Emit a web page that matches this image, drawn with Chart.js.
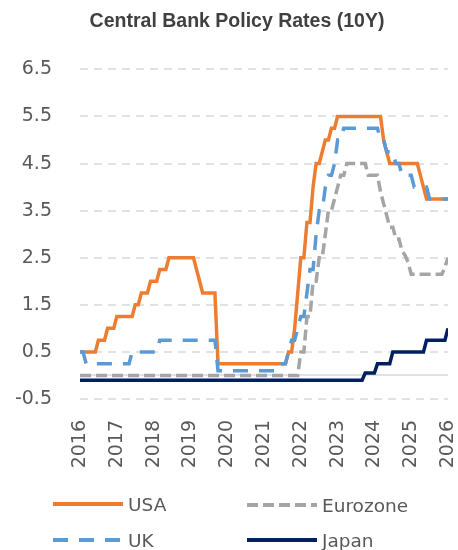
<!DOCTYPE html>
<html>
<head>
<meta charset="utf-8">
<script src="https://cdn.jsdelivr.net/npm/chart.js@4.4.1/dist/chart.umd.min.js"></script>
<style>
  body { margin: 0; background: #fff; }
  #wrap { position: relative; width: 458px; height: 550px; }
  #legend { position: absolute; left: 0; top: 0; width: 458px; height: 550px; pointer-events: none; }
  .item { position: absolute; height: 24px; display: flex; align-items: center;
          font-family: 'DejaVu Sans'; font-size: 18.5px; color: #595959; }
  .item svg { margin-right: 5px; }
</style>
</head>
<body>
<div id="wrap">
  <canvas id="chart" width="458" height="550"></canvas>
  <div id="legend"></div>
</div>
<script>
// monthly values, Jan 2016 .. Jan 2026 (one row per year)
const startYear = 2016;
const yearTicks = [2016, 2017, 2018, 2019, 2020, 2021, 2022, 2023, 2024, 2025, 2026];
const rateTicks = [-0.5, 0.5, 1.5, 2.5, 3.5, 4.5, 5.5, 6.5];

const usa = [
  0.5, 0.5, 0.5, 0.5, 0.5, 0.5, 0.75, 0.75, 0.75, 1, 1, 1,
  1.25, 1.25, 1.25, 1.25, 1.25, 1.25, 1.5, 1.5, 1.75, 1.75, 1.75, 2,
  2, 2, 2.25, 2.25, 2.25, 2.5, 2.5, 2.5, 2.5, 2.5, 2.5, 2.5,
  2.5, 2.5, 2.25, 2, 1.75, 1.75, 1.75, 1.75, 1.75, 0.25, 0.25, 0.25,
  0.25, 0.25, 0.25, 0.25, 0.25, 0.25, 0.25, 0.25, 0.25, 0.25, 0.25, 0.25,
  0.25, 0.25, 0.25, 0.25, 0.25, 0.25, 0.25, 0.25, 0.5, 0.5, 1, 1.75,
  2.5, 2.5, 3.25, 3.25, 4, 4.5, 4.5, 4.75, 5, 5, 5.25, 5.25,
  5.5, 5.5, 5.5, 5.5, 5.5, 5.5, 5.5, 5.5, 5.5, 5.5, 5.5, 5.5,
  5.5, 5.5, 5.5, 5, 4.75, 4.5, 4.5, 4.5, 4.5, 4.5, 4.5, 4.5,
  4.5, 4.5, 4.5, 4.25, 4, 3.75, 3.75, 3.75, 3.75, 3.75, 3.75, 3.75,
  3.75
];

const eurozone = [
  0, 0, 0, 0, 0, 0, 0, 0, 0, 0, 0, 0,
  0, 0, 0, 0, 0, 0, 0, 0, 0, 0, 0, 0,
  0, 0, 0, 0, 0, 0, 0, 0, 0, 0, 0, 0,
  0, 0, 0, 0, 0, 0, 0, 0, 0, 0, 0, 0,
  0, 0, 0, 0, 0, 0, 0, 0, 0, 0, 0, 0,
  0, 0, 0, 0, 0, 0, 0, 0, 0, 0, 0, 0,
  0.5, 0.5, 1.25, 1.25, 2, 2, 2.5, 2.5, 3, 3.5, 3.5, 3.75,
  4, 4.25, 4.25, 4.5, 4.5, 4.5, 4.5, 4.5, 4.5, 4.5, 4.25, 4.25,
  4.25, 4.25, 3.9, 3.65, 3.4, 3.15, 3.15, 2.9, 2.9, 2.65, 2.55, 2.4,
  2.15, 2.15, 2.15, 2.15, 2.15, 2.15, 2.15, 2.15, 2.15, 2.15, 2.15, 2.3,
  2.5
];

const uk = [
  0.5, 0.5, 0.25, 0.25, 0.25, 0.25, 0.25, 0.25, 0.25, 0.25, 0.25, 0.25,
  0.25, 0.25, 0.25, 0.25, 0.25, 0.5, 0.5, 0.5, 0.5, 0.5, 0.5, 0.5,
  0.5, 0.5, 0.75, 0.75, 0.75, 0.75, 0.75, 0.75, 0.75, 0.75, 0.75, 0.75,
  0.75, 0.75, 0.75, 0.75, 0.75, 0.75, 0.75, 0.75, 0.75, 0.1, 0.1, 0.1,
  0.1, 0.1, 0.1, 0.1, 0.1, 0.1, 0.1, 0.1, 0.1, 0.1, 0.1, 0.1,
  0.1, 0.1, 0.1, 0.1, 0.1, 0.1, 0.25, 0.25, 0.5, 0.75, 0.75, 1,
  1.25, 1.25, 1.75, 2.25, 2.25, 3, 3.5, 3.5, 4, 4.25, 4.25, 4.5,
  5, 5, 5.25, 5.25, 5.25, 5.25, 5.25, 5.25, 5.25, 5.25, 5.25, 5.25,
  5.25, 5.25, 5, 5, 4.75, 4.75, 4.75, 4.5, 4.5, 4.25, 4.25, 4.25,
  4.25, 4, 4, 4, 4, 4, 3.75, 3.75, 3.75, 3.75, 3.75, 3.75,
  3.75
];

const japan = [
  -0.1, -0.1, -0.1, -0.1, -0.1, -0.1, -0.1, -0.1, -0.1, -0.1, -0.1, -0.1,
  -0.1, -0.1, -0.1, -0.1, -0.1, -0.1, -0.1, -0.1, -0.1, -0.1, -0.1, -0.1,
  -0.1, -0.1, -0.1, -0.1, -0.1, -0.1, -0.1, -0.1, -0.1, -0.1, -0.1, -0.1,
  -0.1, -0.1, -0.1, -0.1, -0.1, -0.1, -0.1, -0.1, -0.1, -0.1, -0.1, -0.1,
  -0.1, -0.1, -0.1, -0.1, -0.1, -0.1, -0.1, -0.1, -0.1, -0.1, -0.1, -0.1,
  -0.1, -0.1, -0.1, -0.1, -0.1, -0.1, -0.1, -0.1, -0.1, -0.1, -0.1, -0.1,
  -0.1, -0.1, -0.1, -0.1, -0.1, -0.1, -0.1, -0.1, -0.1, -0.1, -0.1, -0.1,
  -0.1, -0.1, -0.1, -0.1, -0.1, -0.1, -0.1, -0.1, -0.1, 0.05, 0.05, 0.05,
  0.05, 0.25, 0.25, 0.25, 0.25, 0.25, 0.5, 0.5, 0.5, 0.5, 0.5, 0.5,
  0.5, 0.5, 0.5, 0.5, 0.5, 0.75, 0.75, 0.75, 0.75, 0.75, 0.75, 0.75,
  1
];

const toPoints = arr => arr.map((v, i) => ({ x: startYear + i / 12, y: v }));

// legend is laid out as a 2x2 grid like the original
const series = [
  { label: 'USA',      data: usa,      color: '#ED7D31', dash: [],       order: 4, pos: [53, 504] },
  { label: 'Eurozone', data: eurozone, color: '#A5A5A5', dash: [11, 5],  order: 3, pos: [247, 505] },
  { label: 'UK',       data: uk,       color: '#5B9BD5', dash: [15, 11], order: 2, pos: [53, 540] },
  { label: 'Japan',    data: japan,    color: '#002060', dash: [],       order: 1, pos: [247, 540] },
];

// dashed horizontal grid + solid line at zero, under the series
const gridLines = {
  id: 'gridLines',
  beforeDatasetsDraw(chart) {
    const { ctx, chartArea, scales } = chart;
    ctx.save();
    ctx.strokeStyle = '#D9D9D9';
    ctx.lineWidth = 1.5;
    ctx.setLineDash([8, 6]);
    rateTicks.forEach(v => {
      const y = Math.round(scales.y.getPixelForValue(v));
      ctx.beginPath();
      ctx.moveTo(chartArea.left, y);
      ctx.lineTo(chartArea.right, y);
      ctx.stroke();
    });
    ctx.setLineDash([]);
    const y0 = Math.round(scales.y.getPixelForValue(0));
    ctx.beginPath();
    ctx.moveTo(chartArea.left, y0);
    ctx.lineTo(chartArea.right, y0);
    ctx.stroke();
    ctx.restore();
  }
};

Chart.defaults.font.family = 'DejaVu Sans';
Chart.defaults.font.size = 19;
Chart.defaults.color = '#595959';

new Chart(document.getElementById('chart').getContext('2d'), {
  type: 'line',
  data: {
    datasets: series.map(s => ({
      label: s.label,
      data: toPoints(s.data),
      borderColor: s.color,
      backgroundColor: s.color,
      borderDash: s.dash,
      borderWidth: 3.5,
      pointRadius: 0,
      tension: 0,
      order: s.order,
    })),
  },
  options: {
    responsive: false,
    animation: false,
    devicePixelRatio: 1,
    layout: { padding: { left: 16, right: 0, top: 0, bottom: 71 } },
    plugins: {
      legend: { display: false },
      tooltip: { enabled: false },
      title: {
        display: true,
        text: 'Central Bank Policy Rates (10Y)',
        color: '#404040',
        font: { family: 'Liberation Sans', size: 19.5, weight: 'bold' },
        padding: { top: 10, bottom: 36 },
      },
    },
    scales: {
      x: {
        type: 'linear',
        min: 2016,
        max: 2026,
        afterBuildTicks: s => { s.ticks = yearTicks.map(v => ({ value: v })); },
        afterFit: s => { s.height = 80; s.paddingLeft = 0; s.paddingRight = 10; },
        grid: { display: false },
        border: { display: false },
        ticks: {
          minRotation: 90,
          maxRotation: 90,
          padding: 13,
          callback: v => String(v),
        },
      },
      y: {
        min: -0.5,
        max: 6.5,
        afterBuildTicks: s => { s.ticks = rateTicks.map(v => ({ value: v })); },
        afterFit: s => { s.width = 64; },
        grid: { display: false },
        border: { display: false },
        ticks: { padding: 20, callback: v => v.toFixed(1) },
      },
    },
  },
  plugins: [gridLines],
});

document.getElementById('legend').innerHTML = series.map(s => {
  const [x, y] = s.pos;
  return `<div class="item" style="left:${x}px;top:${y - 12}px">` +
    `<svg width="70" height="24"><line x1="0" y1="12" x2="70" y2="12" stroke="${s.color}" ` +
    `stroke-width="4" stroke-dasharray="${s.dash.join(' ')}"/></svg>${s.label}</div>`;
}).join('');
</script>
</body>
</html>
